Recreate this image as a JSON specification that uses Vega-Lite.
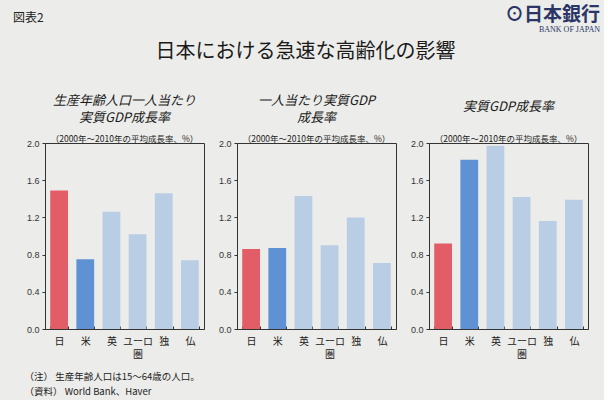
{
  "$schema": "https://vega.github.io/schema/vega-lite/v6.json",
  "background": "#ecedea",
  "padding": {"left": 12, "top": 6, "right": 4, "bottom": 4},
  "title": {
    "text": ["（注） 生産年齢人口は15～64歳の人口。", "（資料） World Bank、Haver"],
    "orient": "bottom", "anchor": "start", "fontSize": 9.5, "fontWeight": "normal", "fontStyle": "normal",
    "lineHeight": 15, "offset": 12, "dx": 12, "color": "#222"
  },
  "datasets": {
    "growth": [
      {"panel": "A", "country": "日", "value": 1.49},
      {"panel": "A", "country": "米", "value": 0.75},
      {"panel": "A", "country": "英", "value": 1.26},
      {"panel": "A", "country": "ユーロ圏", "value": 1.02},
      {"panel": "A", "country": "独", "value": 1.46},
      {"panel": "A", "country": "仏", "value": 0.74},
      {"panel": "B", "country": "日", "value": 0.86},
      {"panel": "B", "country": "米", "value": 0.87},
      {"panel": "B", "country": "英", "value": 1.43},
      {"panel": "B", "country": "ユーロ圏", "value": 0.90},
      {"panel": "B", "country": "独", "value": 1.20},
      {"panel": "B", "country": "仏", "value": 0.71},
      {"panel": "C", "country": "日", "value": 0.92},
      {"panel": "C", "country": "米", "value": 1.82},
      {"panel": "C", "country": "英", "value": 1.97},
      {"panel": "C", "country": "ユーロ圏", "value": 1.42},
      {"panel": "C", "country": "独", "value": 1.16},
      {"panel": "C", "country": "仏", "value": 1.39}
    ]
  },
  "spacing": 8,
  "vconcat": [
    {
      "spacing": 0,
      "hconcat": [
        {
          "width": 300, "height": 1,
          "data": {"values": []},
          "mark": {"type": "point", "opacity": 0},
          "encoding": {},
          "view": {"stroke": null},
          "title": {"text": "図表2", "anchor": "start", "frame": "group", "fontSize": 12, "fontStyle": "normal", "fontWeight": "normal", "dx": -32, "dy": -12, "color": "#222"}
        },
        {
          "width": 255, "height": 1,
          "data": {"values": []},
          "mark": {"type": "point", "opacity": 0},
          "encoding": {},
          "view": {"stroke": null},
          "title": {"text": "⊙日本銀行", "subtitle": "BANK OF JAPAN", "anchor": "end", "frame": "group", "fontSize": 19, "fontStyle": "normal", "fontWeight": "bold", "color": "#2b3566",
            "subtitleFont": "Liberation Serif", "subtitleFontSize": 8, "subtitleColor": "#2b3566", "subtitlePadding": 1, "offset": 2, "dy": 3}
        }
      ]
    },
    {
      "spacing": 12,
      "title": {"text": "日本における急速な高齢化の影響", "fontSize": 20, "fontStyle": "normal", "fontWeight": "normal", "anchor": "middle", "offset": 30, "dx": 5, "dy": -2, "color": "#1a1a1a"},
      "hconcat": [
        {
          "width": 159, "height": 186,
          "data": {"name": "growth"},
          "transform": [{"filter": {"field": "panel", "equal": "A"}}],
          "title": {"text": ["生産年齢人口一人当たり", "実質GDP成長率"], "subtitle": "（2000年～2010年の平均成長率、%）", "frame": "group"},
          "mark": {"type": "bar"},
          "encoding": {
            "x": {"field": "country", "type": "nominal", "sort": ["日", "米", "英", "ユーロ圏", "独", "仏"], "scale": {"paddingInner": 0.32, "paddingOuter": 0.2}, "axis": {"title": null}},
            "y": {"field": "value", "type": "quantitative", "scale": {"domain": [0, 2]}, "axis": {"title": null, "values": [0, 0.4, 0.8, 1.2, 1.6, 2.0], "format": ".1f", "minExtent": 32, "maxExtent": 32}},
            "color": {"field": "country", "type": "nominal", "scale": {"domain": ["日", "米", "英", "ユーロ圏", "独", "仏"], "range": ["#e35d66", "#5f92d2", "#b9cde5", "#b9cde5", "#b9cde5", "#b9cde5"]}, "legend": null}
          }
        },
        {
          "width": 159, "height": 186,
          "data": {"name": "growth"},
          "transform": [{"filter": {"field": "panel", "equal": "B"}}],
          "title": {"text": ["一人当たり実質GDP", "成長率"], "subtitle": "（2000年～2010年の平均成長率、%）", "frame": "group"},
          "mark": {"type": "bar"},
          "encoding": {
            "x": {"field": "country", "type": "nominal", "sort": ["日", "米", "英", "ユーロ圏", "独", "仏"], "scale": {"paddingInner": 0.32, "paddingOuter": 0.2}, "axis": {"title": null}},
            "y": {"field": "value", "type": "quantitative", "scale": {"domain": [0, 2]}, "axis": {"title": null, "values": [0, 0.4, 0.8, 1.2, 1.6, 2.0], "format": ".1f", "minExtent": 18, "maxExtent": 18}},
            "color": {"field": "country", "type": "nominal", "scale": {"domain": ["日", "米", "英", "ユーロ圏", "独", "仏"], "range": ["#e35d66", "#5f92d2", "#b9cde5", "#b9cde5", "#b9cde5", "#b9cde5"]}, "legend": null}
          }
        },
        {
          "width": 159, "height": 186,
          "data": {"name": "growth"},
          "transform": [{"filter": {"field": "panel", "equal": "C"}}],
          "title": {"text": "実質GDP成長率", "subtitle": "（2000年～2010年の平均成長率、%）", "frame": "group", "subtitlePadding": 21},
          "mark": {"type": "bar"},
          "encoding": {
            "x": {"field": "country", "type": "nominal", "sort": ["日", "米", "英", "ユーロ圏", "独", "仏"], "scale": {"paddingInner": 0.32, "paddingOuter": 0.2}, "axis": {"title": null}},
            "y": {"field": "value", "type": "quantitative", "scale": {"domain": [0, 2]}, "axis": {"title": null, "values": [0, 0.4, 0.8, 1.2, 1.6, 2.0], "format": ".1f", "minExtent": 18, "maxExtent": 18}},
            "color": {"field": "country", "type": "nominal", "scale": {"domain": ["日", "米", "英", "ユーロ圏", "独", "仏"], "range": ["#e35d66", "#5f92d2", "#b9cde5", "#b9cde5", "#b9cde5", "#b9cde5"]}, "legend": null}
          }
        }
      ]
    }
  ],
  "resolve": {"scale": {"color": "independent"}},
  "config": {
    "font": "Noto Sans CJK JP",
    "view": {"stroke": "#333", "strokeWidth": 1},
    "title": {"fontSize": 13, "fontStyle": "italic", "fontWeight": "normal", "color": "#1a1a1a", "lineHeight": 17, "offset": -4,
      "subtitleFontSize": 8.5, "subtitleFontStyle": "normal", "subtitleColor": "#222", "subtitlePadding": 10},
    "axisX": {"labelAngle": 0, "labelFontSize": 10, "labelColor": "#222", "labelLineHeight": 13, "labelPadding": 10,
      "labelExpr": "datum.value === 'ユーロ圏' ? ['ユーロ', '圏'] : datum.value",
      "tickBand": "extent", "tickSize": -3, "tickColor": "#333", "domainColor": "#333", "grid": false},
    "axisY": {"labelFontSize": 9, "labelFont": "Liberation Sans", "labelColor": "#333",
      "tickSize": 3, "tickColor": "#333", "domainColor": "#333", "grid": false, "labelPadding": 3}
  }
}
